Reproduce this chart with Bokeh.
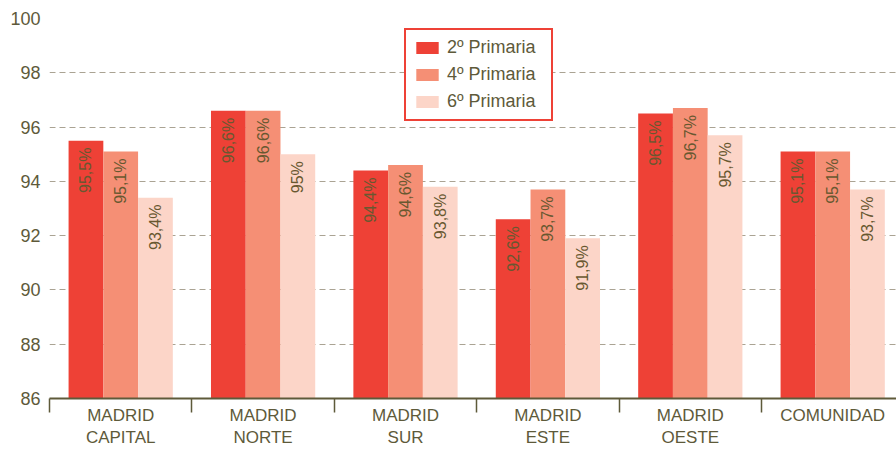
from bokeh.plotting import figure
from bokeh.models import ColumnDataSource, Range1d, FixedTicker, Legend, LegendItem
from bokeh.core.properties import value
from bokeh.embed import file_html
from bokeh.resources import INLINE
import math

categories = ["MADRID\nCAPITAL", "MADRID\nNORTE", "MADRID\nSUR", "MADRID\nESTE", "MADRID\nOESTE", "COMUNIDAD"]
series_names = ["2º Primaria", "4º Primaria", "6º Primaria"]
primaria2 = [95.5, 96.6, 94.4, 92.6, 96.5, 95.1]
primaria4 = [95.1, 96.6, 94.6, 93.7, 96.7, 95.1]
primaria6 = [93.4, 95.0, 93.8, 91.9, 95.7, 93.7]
y_ticks = [86, 88, 90, 92, 94, 96, 98, 100]

colors = ["#ee4136", "#f58f75", "#fcd5c8"]
text_col = "#5e5a3a"
FONT = "Liberation Sans"

def fmt(v):
    s = ("%.1f" % v).replace(".", ",")
    if s.endswith(",0"):
        s = s[:-2]
    return s + "%"

W, H = 896, 450
left_border = 49
frame_w = W - left_border
cat_px = 142.4
x_end = frame_w / cat_px

p = figure(width=W, height=H, output_backend="svg", toolbar_location=None,
           x_range=Range1d(0, x_end), y_range=Range1d(86, 100),
           min_border_left=left_border, min_border_right=0, min_border_top=18,
           min_border_bottom=0)
p.outline_line_color = None
p.background_fill_color = "white"

centers = [i + 0.5 for i in range(len(categories))]
bw = 0.244
offsets = [-bw, 0.0, bw]
renderers = []
for vals, off, col in zip([primaria2, primaria4, primaria6], offsets, colors):
    src = ColumnDataSource(dict(x=[c + off for c in centers], top=vals,
                                lab=[fmt(v) for v in vals]))
    r = p.vbar(x="x", top="top", bottom=86, width=bw, source=src,
               fill_color=col, line_color=None)
    renderers.append(r)
    p.text(x="x", y="top", text="lab", source=src, angle=math.pi / 2,
           text_align="right", text_baseline="middle", y_offset=7,
           text_font=value(FONT), text_font_size="16px", text_color="#685830")

# y axis
p.yaxis.ticker = FixedTicker(ticks=y_ticks)
p.yaxis.axis_line_color = None
p.yaxis.major_tick_line_color = None
p.yaxis.major_tick_out = 0
p.yaxis.minor_tick_line_color = None
p.yaxis.major_label_text_font = FONT
p.yaxis.major_label_text_font_size = "18px"
p.yaxis.major_label_text_color = text_col
p.yaxis.major_label_standoff = 9

p.ygrid.ticker = FixedTicker(ticks=y_ticks)
p.ygrid.grid_line_color = "#aaa393"
p.ygrid.grid_line_dash = "6 4"
p.ygrid.grid_line_width = 1
p.xgrid.grid_line_color = None

# x axis
p.xaxis.ticker = FixedTicker(ticks=centers, minor_ticks=list(range(len(categories) + 1)))
p.xaxis.major_label_overrides = {c: lab for c, lab in zip(centers, categories)}
p.xaxis.axis_line_color = "#5e5a3a"
p.xaxis.axis_line_width = 2
p.xaxis.major_tick_line_color = None
p.xaxis.major_tick_out = 0
p.xaxis.major_tick_in = 0
p.xaxis.minor_tick_line_color = "#5e5a3a"
p.xaxis.minor_tick_line_width = 1.5
p.xaxis.minor_tick_out = 14
p.xaxis.minor_tick_in = 0
p.xaxis.major_label_text_font = FONT
p.xaxis.major_label_text_font_size = "17px"
p.xaxis.major_label_text_color = text_col
p.xaxis.major_label_standoff = -7

legend = Legend(items=[LegendItem(label=n, renderers=[r]) for n, r in zip(series_names, renderers)],
                location=(355, 277))
legend.border_line_color = "#ee4136"
legend.border_line_alpha = 1
legend.border_line_width = 2
legend.background_fill_color = "white"
legend.background_fill_alpha = 1
legend.glyph_width = 28
legend.glyph_height = 15
legend.label_height = 15
legend.label_width = 97
legend.spacing = 6
legend.padding = 7
legend.margin = 0
legend.label_standoff = 6
legend.label_text_font = FONT
legend.label_text_font_size = "18px"
legend.label_text_color = text_col
p.add_layout(legend, "center")

open("out.html", "w").write(file_html(p, INLINE))
